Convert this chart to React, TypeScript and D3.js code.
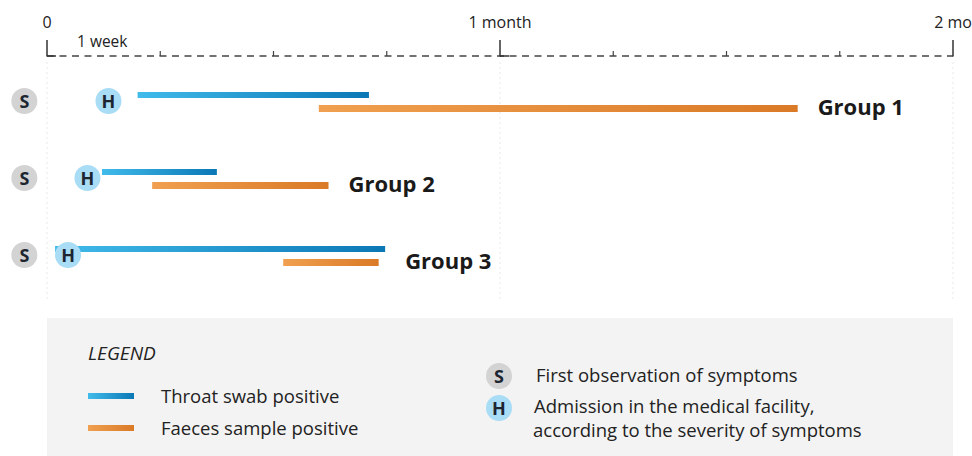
import React from 'react';
import * as d3 from 'd3';

// days since first symptoms (0 = start of axis)
const groups = ['Group 1', 'Group 2', 'Group 3'];
const symptomDay = [-1.4, -1.4, -1.4];
const admissionDay = [3.8, 2.5, 1.3];
const throatStart = [5.6, 3.4, 0.5];
const throatEnd = [19.9, 10.5, 20.9];
const faecesStart = [16.8, 6.5, 14.6];
const faecesEnd = [46.4, 17.4, 20.5];

const weekTicks = [7, 14, 21, 35, 42, 49];
const majorTicks = [0, 28, 56];
const majorLabels = ['0', '1 month', '2 mo'];

const font = '"Open Sans", "Noto Sans", sans-serif';
const blueA = '#40bbea';
const blueB = '#0b78b6';
const orangeA = '#f0a050';
const orangeB = '#da7a27';

const W = 972;
const H = 456;

const Marker: React.FC<{ cx: number; cy: number; letter: string }> = ({ cx, cy, letter }) => (
  <g>
    <circle cx={cx} cy={cy} r={13} fill={letter === 'S' ? '#d3d3d3' : '#a9dcf5'} />
    <text x={cx} y={cy + 6.5} textAnchor="middle" fontFamily={font} fontWeight={700} fontSize={18} fill="#1c2530">
      {letter}
    </text>
  </g>
);

const App: React.FC = () => {
  const x = d3.scaleLinear().domain([0, 56]).range([47, 953]);
  const y = d3.scalePoint<string>().domain(groups).range([101, 255]);
  const axisY = 56;

  return (
    <svg width={W} height={H} style={{ position: 'absolute', left: 0, top: 0 }}>
      <defs>
        <linearGradient id="gBlue" x1="0" x2="1" y1="0" y2="0">
          <stop offset="0" stopColor={blueA} />
          <stop offset="1" stopColor={blueB} />
        </linearGradient>
        <linearGradient id="gOrange" x1="0" x2="1" y1="0" y2="0">
          <stop offset="0" stopColor={orangeA} />
          <stop offset="1" stopColor={orangeB} />
        </linearGradient>
      </defs>
      <rect width={W} height={H} fill="#fff" />

      {/* faint gridlines */}
      {majorTicks.map((t) => (
        <line key={'g' + t} x1={x(t)} x2={x(t)} y1={62} y2={300} stroke="#e9e9e9" strokeWidth={1} strokeDasharray="2 3" />
      ))}

      {/* axis */}
      <line x1={x(0)} x2={x(56)} y1={axisY} y2={axisY} stroke="#444" strokeWidth={1.3} strokeDasharray="7 5.5" />
      {majorTicks.map((t, i) => (
        <g key={'m' + t}>
          <line x1={x(t)} x2={x(t)} y1={40} y2={axisY + 0.6} stroke="#333" strokeWidth={1.5} />
          {i < 2 && <line x1={x(t)} x2={x(t) + 9} y1={axisY} y2={axisY} stroke="#333" strokeWidth={1.5} />}
          <text x={x(t)} y={28} textAnchor="middle" fontFamily={font} fontSize={16} fill="#222">
            {majorLabels[i]}
          </text>
        </g>
      ))}
      {weekTicks.map((t) => (
        <line key={'w' + t} x1={x(t)} x2={x(t)} y1={51} y2={axisY} stroke="#444" strokeWidth={1.2} />
      ))}
      <text x={77} y={47} fontFamily={font} fontSize={15.5} fill="#222">1 week</text>

      {/* groups */}
      {groups.map((g, i) => {
        const cy = y(g)!;
        const labelX = Math.max(x(throatEnd[i]), x(faecesEnd[i])) + 20;
        return (
          <g key={g}>
            <rect x={x(throatStart[i])} y={cy - 9} width={x(throatEnd[i]) - x(throatStart[i])} height={6} fill="url(#gBlue)" />
            <rect x={x(faecesStart[i])} y={cy + 4} width={x(faecesEnd[i]) - x(faecesStart[i])} height={7} fill="url(#gOrange)" />
            <Marker cx={x(symptomDay[i])} cy={cy} letter="S" />
            <Marker cx={x(admissionDay[i])} cy={cy} letter="H" />
            <text x={labelX} y={cy + 14} fontFamily={font} fontWeight={700} fontSize={22} fill="#1a1a1a">
              {g}
            </text>
          </g>
        );
      })}

      {/* legend */}
      <rect x={47} y={318} width={906} height={150} fill="#f3f3f3" />
      <text x={88} y={360} fontFamily={font} fontStyle="italic" fontSize={19} fill="#222">LEGEND</text>
      <rect x={88} y={393} width={46} height={6} fill="url(#gBlue)" />
      <rect x={88} y={425} width={46} height={6} fill="url(#gOrange)" />
      <text x={161} y={403} fontFamily={font} fontSize={18.5} fill="#222">Throat swab positive</text>
      <text x={161} y={435} fontFamily={font} fontSize={18.5} fill="#222">Faeces sample positive</text>
      <Marker cx={499} cy={376} letter="S" />
      <Marker cx={499} cy={408} letter="H" />
      <text x={536} y={382} fontFamily={font} fontSize={18.5} fill="#222">First observation of symptoms</text>
      <text x={534} y={413} fontFamily={font} fontSize={18.5} fill="#222">Admission in the medical facility,</text>
      <text x={533} y={437} fontFamily={font} fontSize={18.5} fill="#222">according to the severity of symptoms</text>
    </svg>
  );
};

export default App;
